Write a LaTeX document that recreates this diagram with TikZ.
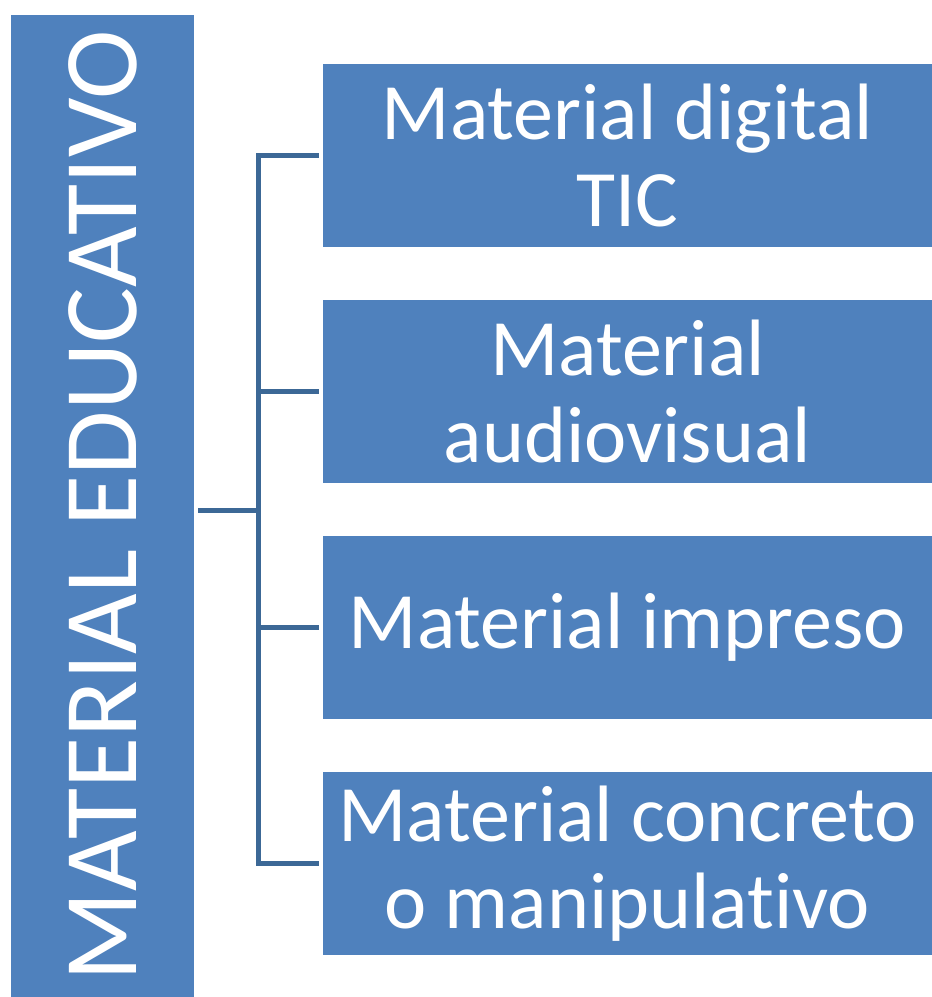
\documentclass[tikz,border=0pt]{standalone}
\usepackage{fontspec}
\setmainfont{Carlito}[Ligatures={NoCommon,NoContextual,NoRare}]
\usetikzlibrary{positioning}

\definecolor{boxblue}{HTML}{4F81BD}
\definecolor{lineblue}{HTML}{3C6896}

\begin{document}
\begin{tikzpicture}[x=0.75pt,y=-0.75pt,
    itembox/.style={rectangle,fill=boxblue,text=white,inner sep=0pt,
      minimum width=456.75pt,minimum height=137.25pt,align=center,
      font=\fontsize{60}{65}\selectfont},
    conn/.style={draw=lineblue,line width=3.75pt,line cap=rect}]
            \useasboundingbox (0,0) rectangle (932,997);
            % Nodes
            \node[rectangle,fill=boxblue,text=white,rotate=90,inner sep=0pt,
              minimum width=736.5pt,minimum height=137.25pt,
              font=\fontsize{78.5}{80}\selectfont] (main) at (102.5,506) {\raisebox{-2pt}{MATERIAL EDUCATIVO}};
            \node[itembox] (tic) at (627.5,155.5) {Material digital\\TIC};
            \node[itembox] (audio) at (627.5,391.5) {Material\\audiovisual};
            \node[itembox] (impreso) at (627.5,627.5) {Material impreso};
            \node[itembox] (concreto) at (627.5,863.5) {Material concreto\\o manipulativo};
            \coordinate (hub) at (258.5,510);
            % Edges
            \draw[conn,shorten <=4.5pt] (main.south |- hub) -- (hub);
            \draw[conn,shorten <=4.5pt,shorten >=4.5pt] (tic.west) -| (hub) |- (concreto.west);
            \draw[conn,shorten >=4.5pt] (hub |- audio.west) -- (audio.west);
            \draw[conn,shorten >=4.5pt] (hub |- impreso.west) -- (impreso.west);
        \end{tikzpicture}
\end{document}
